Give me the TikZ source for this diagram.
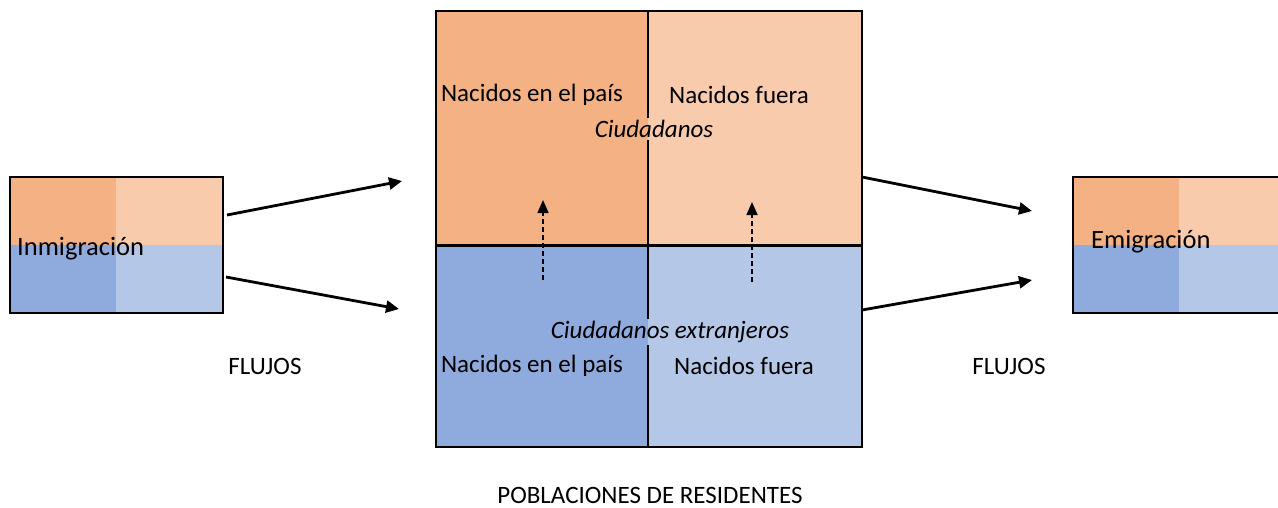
\documentclass[tikz,border=0pt]{standalone}
\usepackage{fontspec}
\setmainfont{Carlito}
\usetikzlibrary{arrows.meta}

\definecolor{nacDark}{HTML}{F4B183}
\definecolor{nacLight}{HTML}{F8CBAD}
\definecolor{extDark}{HTML}{8FAADC}
\definecolor{extLight}{HTML}{B4C7E7}

\tikzset{
  txt/.style={font=\fontsize{25}{30}\selectfont, inner sep=2pt},
  boxtxt/.style={font=\fontsize{26.5}{30}\selectfont, inner sep=0pt, anchor=west},
  flow/.style={line width=2.8pt, -{Triangle[length=13pt,width=12pt]}},
  change/.style={line width=1.6pt, dash pattern=on 5pt off 3pt, -{Triangle[length=13pt,width=11pt]}},
}

\begin{document}
\begin{tikzpicture}[x=1pt, y=-1pt]

\useasboundingbox (0,0) rectangle (1278,507);

% small boxes
\fill[nacDark] (10,177) rectangle (116,245);
\fill[nacLight] (116,177) rectangle (223,245);
\fill[extDark] (10,245) rectangle (116,313);
\fill[extLight] (116,245) rectangle (223,313);
\draw[line width=1.5pt] (10,177) rectangle (223,313);

\fill[nacDark] (1073,177) rectangle (1179,245);
\fill[nacLight] (1179,177) rectangle (1300,245);
\fill[extDark] (1073,245) rectangle (1179,313);
\fill[extLight] (1179,245) rectangle (1300,313);
\draw[line width=1.5pt] (1073,177) rectangle (1300,313);

% residents
\fill[nacDark] (436,11) rectangle (648,245);
\fill[nacLight] (648,11) rectangle (862,245);
\fill[extDark] (436,245) rectangle (648,447);
\fill[extLight] (648,245) rectangle (862,447);
\draw[line width=1.5pt] (436,11) rectangle (862,447);
\draw[line width=3pt] (436,245) -- (862,245);

\coordinate (vtop) at (648,11);
\coordinate (vmid) at (648,245);
\coordinate (vbot) at (648,447);

\node (ciud) at (654,129) [txt, font=\fontsize{25}{30}\selectfont\itshape] {Ciudadanos};
\node (ciudext) at (670,332) [txt, font=\fontsize{25}{30}\selectfont\itshape] {Ciudadanos extranjeros};

\draw[line width=1.5pt] (vtop) -- (vtop |- ciud.north);
\draw[line width=1.5pt] (vtop |- ciud.south) -- (vmid);
\draw[line width=1.5pt] (vmid) -- (vmid |- ciudext.north);
\draw[line width=1.5pt] (vmid |- ciudext.south) -- (vbot);

\node (ciudnac) at (532,95) [txt] {Nacidos en el país};
\node (ciudfue) at (739,95) [txt] {Nacidos fuera};
\node (extnac) at (532,366) [txt] {Nacidos en el país};
\node (extfue) at (744,366) [txt] {Nacidos fuera};

\node (inmig) at (17,249) [boxtxt] {Inmigración};
\node (emig) at (1091,242) [boxtxt] {Emigración};

\node (flujosin) at (265,366) [txt] {FLUJOS};
\node (flujosout) at (1009,366) [txt] {FLUJOS};
\node (pobl) at (650,495) [txt, inner sep=0pt] {POBLACIONES DE RESIDENTES};

% flows
\coordinate (inA) at (227,215);
\coordinate (inAend) at (402,181);
\coordinate (inB) at (226,277);
\coordinate (inBend) at (399,309);
\coordinate (outA) at (862,177);
\coordinate (outAend) at (1032,211);
\coordinate (outB) at (862,310);
\coordinate (outBend) at (1032,280);

\draw[flow] (inA) -- (inAend);
\draw[flow] (inB) -- (inBend);
\draw[flow] (outA) -- (outAend);
\draw[flow] (outB) -- (outBend);

% naturalisation
\coordinate (natA) at (543,280);
\coordinate (natAend) at (543,200);
\coordinate (natB) at (752,282);
\coordinate (natBend) at (752,202);

\draw[change] (natA) -- (natAend);
\draw[change] (natB) -- (natBend);

\end{tikzpicture}
\end{document}
